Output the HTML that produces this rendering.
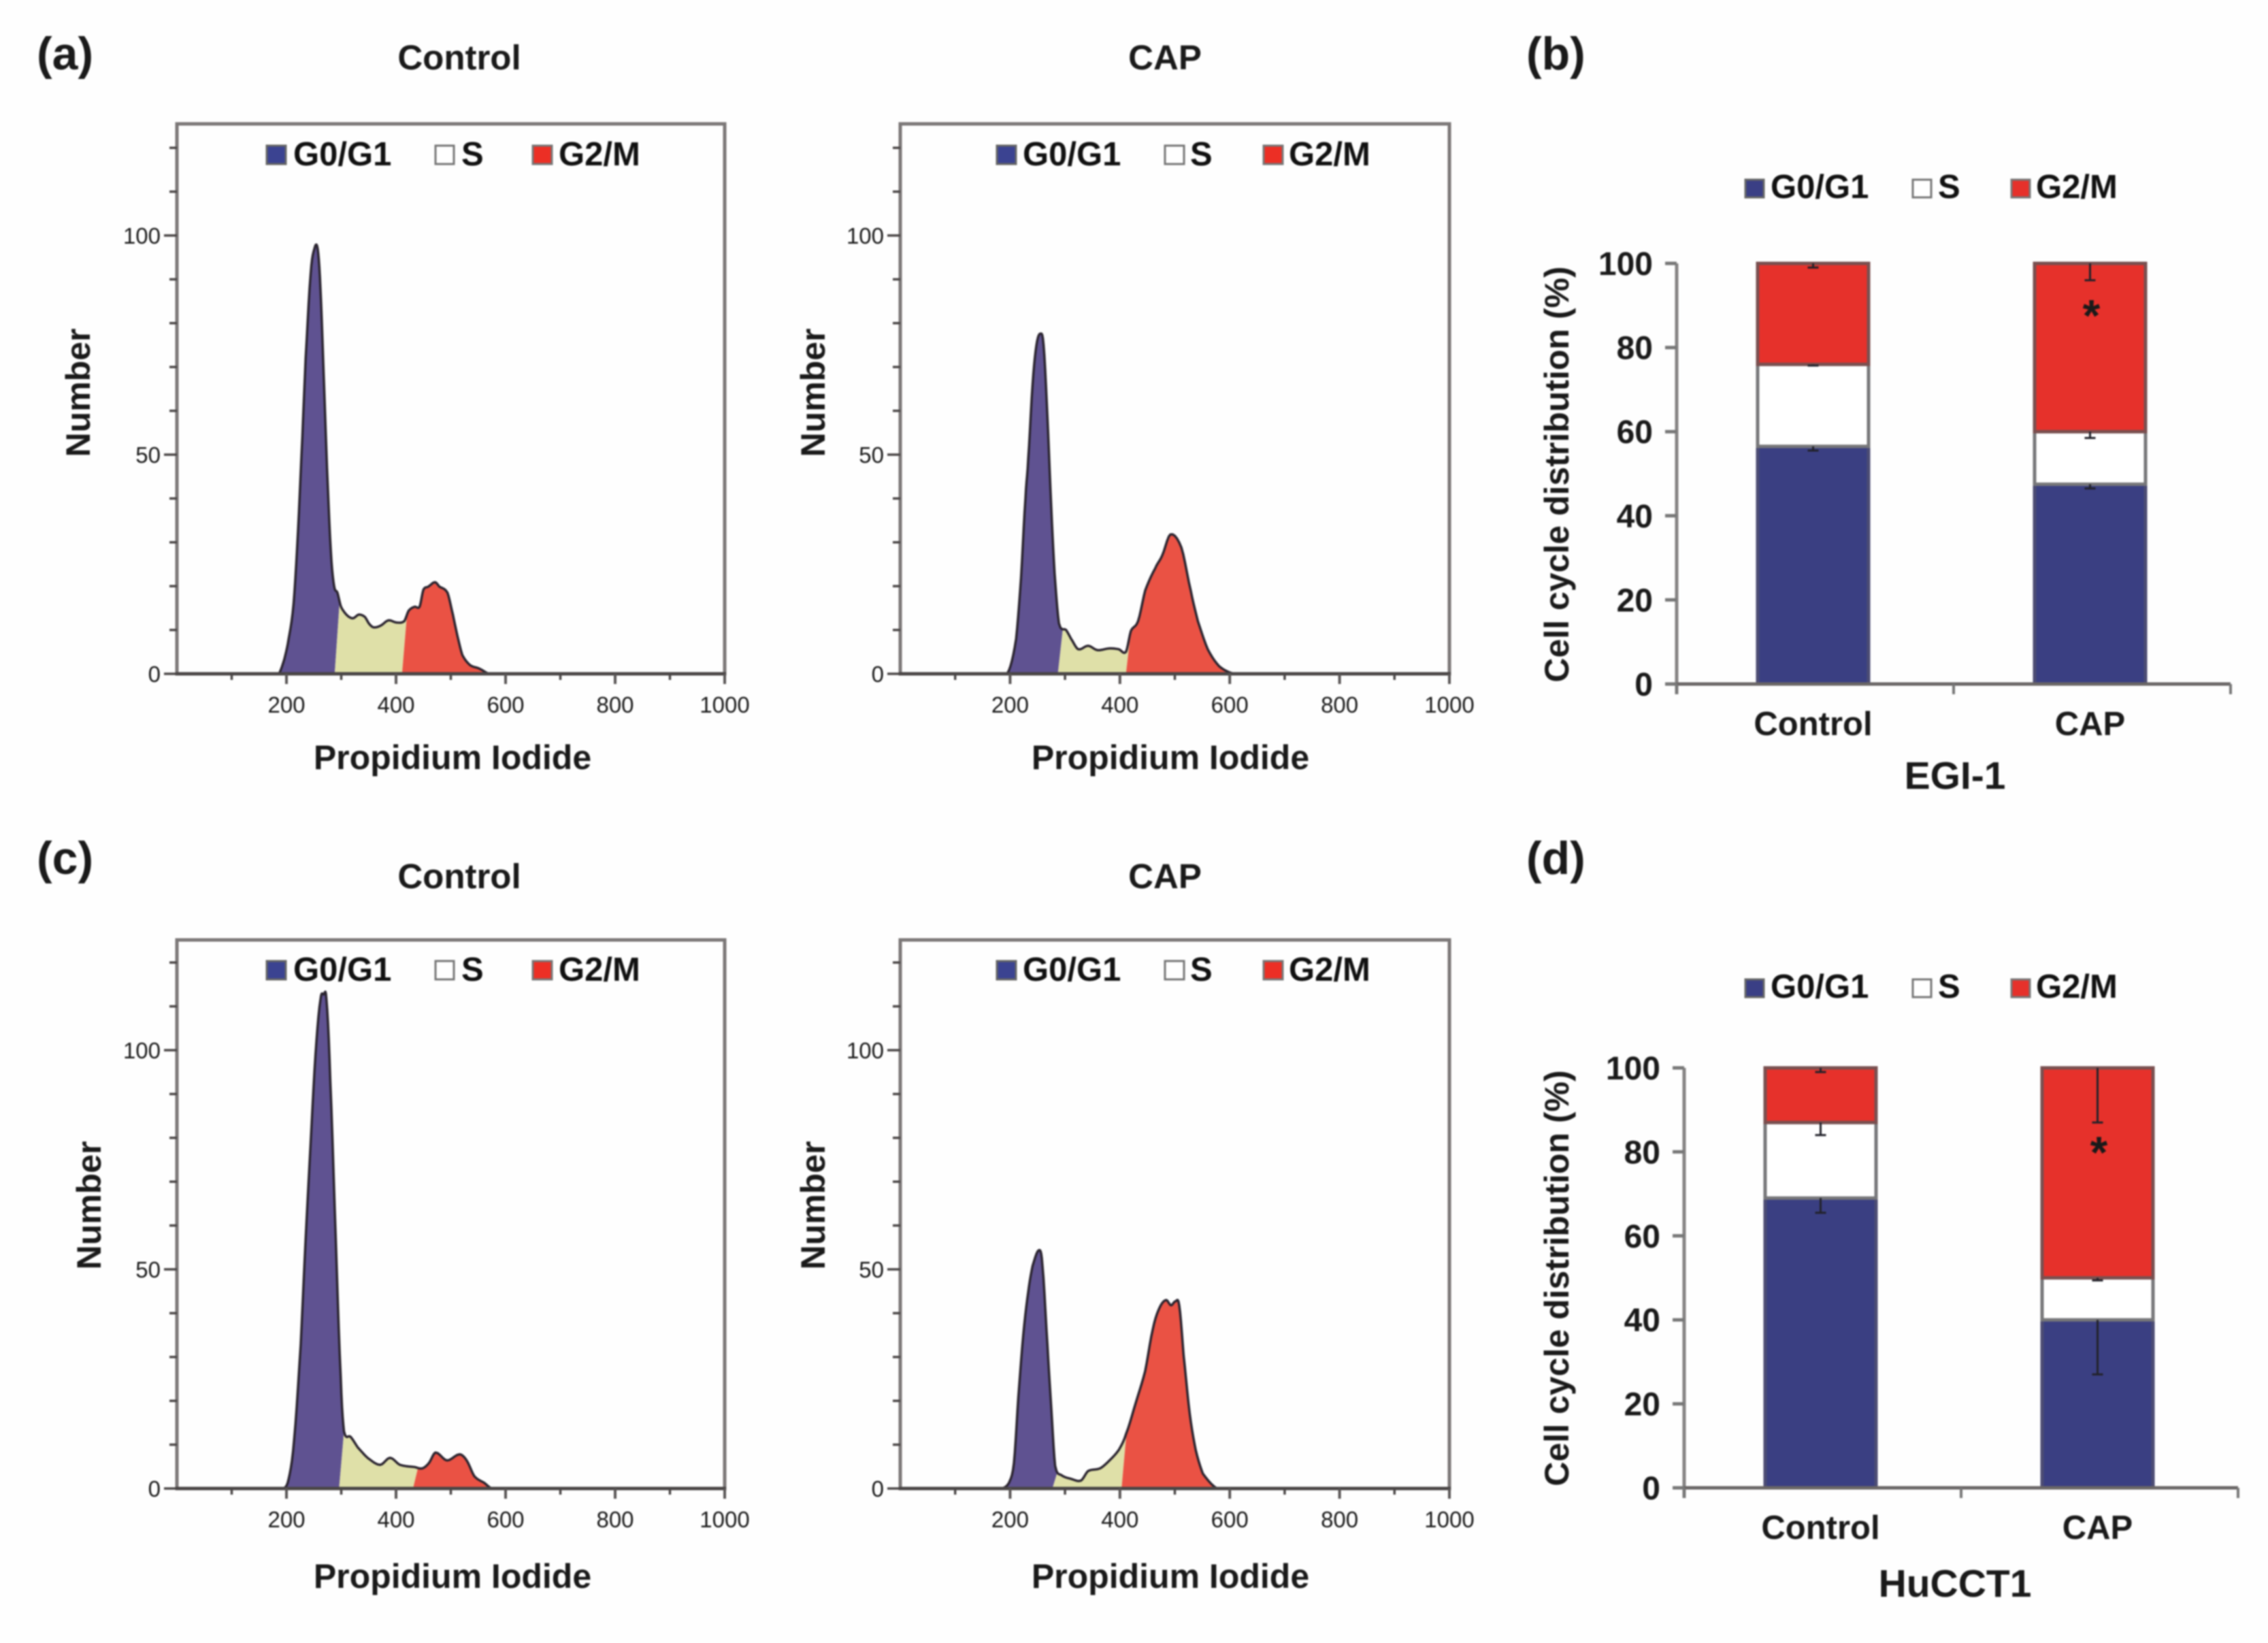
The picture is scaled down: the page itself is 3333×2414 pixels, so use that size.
<!DOCTYPE html>
<html lang="en">
<head>
<meta charset="utf-8">
<title>Cell cycle distribution</title>
<style>
html,body{margin:0;padding:0;background:#fefefe;}
svg{display:block;filter:blur(1.1px);}
text{font-family:"Liberation Sans",sans-serif;fill:#1a1a1a;}
.b{font-weight:bold;}
.leg{font-weight:bold;font-size:49px;fill:#111;}
.mid{text-anchor:middle;}
.ttl{font-weight:bold;font-size:51px;text-anchor:middle;}
.axt{font-weight:bold;font-size:50px;text-anchor:middle;}
.pl{font-weight:bold;font-size:68px;}
</style>
</head>
<body>
<svg id="fig" xmlns="http://www.w3.org/2000/svg" width="3333" height="2414" viewBox="0 0 3333 2414">
<rect x="0" y="0" width="3333" height="2414" fill="#fefefe"/>

<text class="pl" x="54" y="102">(a)</text>
<text class="pl" x="2243" y="102">(b)</text>
<text class="pl" x="54" y="1284">(c)</text>
<text class="pl" x="2243" y="1284">(d)</text>

<text class="ttl" x="675" y="102">Control</text>
<text class="ttl" x="1712" y="102">CAP</text>
<text class="ttl" x="675" y="1305">Control</text>
<text class="ttl" x="1712" y="1305">CAP</text>

<text class="axt" x="665" y="1130">Propidium Iodide</text>
<text class="axt" x="1720" y="1130">Propidium Iodide</text>
<text class="axt" x="665" y="2333">Propidium Iodide</text>
<text class="axt" x="1720" y="2333">Propidium Iodide</text>

<text class="axt" transform="translate(132,577) rotate(-90)">Number</text>
<text class="axt" transform="translate(1212,577) rotate(-90)">Number</text>
<text class="axt" transform="translate(148,1771) rotate(-90)">Number</text>
<text class="axt" transform="translate(1212,1771) rotate(-90)">Number</text>

<text class="axt" transform="translate(2305,697) rotate(-90)">Cell cycle distribution (%)</text>
<text class="axt" transform="translate(2305,1878) rotate(-90)">Cell cycle distribution (%)</text>
<text class="b mid" x="2873" y="1159" font-size="57">EGI-1</text>
<text class="b mid" x="2873" y="2346" font-size="57">HuCCT1</text>

<!-- legends -->
<g>
<rect x="392" y="214" width="28" height="27" fill="#3b4391" stroke="#666" stroke-width="3"/>
<text class="leg" x="431" y="243">G0/G1</text>
<rect x="640" y="214" width="27" height="27" fill="#fff" stroke="#777" stroke-width="3"/>
<text class="leg" x="678" y="243">S</text>
<rect x="783" y="214" width="28" height="27" fill="#ec2f25" stroke="#777" stroke-width="3"/>
<text class="leg" x="821" y="243">G2/M</text>
</g>
<g>
<rect x="1465" y="214" width="28" height="27" fill="#3b4391" stroke="#666" stroke-width="3"/>
<text class="leg" x="1503" y="243">G0/G1</text>
<rect x="1712" y="214" width="28" height="27" fill="#fff" stroke="#777" stroke-width="3"/>
<text class="leg" x="1749" y="243">S</text>
<rect x="1857" y="214" width="28" height="27" fill="#ec2f25" stroke="#777" stroke-width="3"/>
<text class="leg" x="1894" y="243">G2/M</text>
</g>
<g>
<rect x="392" y="1412" width="28" height="27" fill="#3b4391" stroke="#666" stroke-width="3"/>
<text class="leg" x="431" y="1441">G0/G1</text>
<rect x="640" y="1412" width="27" height="27" fill="#fff" stroke="#777" stroke-width="3"/>
<text class="leg" x="678" y="1441">S</text>
<rect x="783" y="1412" width="28" height="27" fill="#ec2f25" stroke="#777" stroke-width="3"/>
<text class="leg" x="821" y="1441">G2/M</text>
</g>
<g>
<rect x="1465" y="1412" width="28" height="27" fill="#3b4391" stroke="#666" stroke-width="3"/>
<text class="leg" x="1503" y="1441">G0/G1</text>
<rect x="1712" y="1412" width="28" height="27" fill="#fff" stroke="#777" stroke-width="3"/>
<text class="leg" x="1749" y="1441">S</text>
<rect x="1857" y="1412" width="28" height="27" fill="#ec2f25" stroke="#777" stroke-width="3"/>
<text class="leg" x="1894" y="1441">G2/M</text>
</g>
<g>
<rect x="2565" y="264" width="27" height="26" fill="#3a3f85" stroke="#666" stroke-width="3"/>
<text class="leg" x="2602" y="291">G0/G1</text>
<rect x="2811" y="264" width="27" height="26" fill="#fff" stroke="#777" stroke-width="3"/>
<text class="leg" x="2848" y="291">S</text>
<rect x="2956" y="264" width="27" height="26" fill="#e6312b" stroke="#777" stroke-width="3"/>
<text class="leg" x="2992" y="291">G2/M</text>
</g>
<g>
<rect x="2565" y="1439" width="27" height="26" fill="#3a3f85" stroke="#666" stroke-width="3"/>
<text class="leg" x="2602" y="1466">G0/G1</text>
<rect x="2811" y="1439" width="27" height="26" fill="#fff" stroke="#777" stroke-width="3"/>
<text class="leg" x="2848" y="1466">S</text>
<rect x="2956" y="1439" width="27" height="26" fill="#e6312b" stroke="#777" stroke-width="3"/>
<text class="leg" x="2992" y="1466">G2/M</text>
</g>
<g id="charts"></g>
</svg>

<script>
// ---- histogram data (x in propidium iodide units, y in cell number) ----
const aControlX = [186,196,204,213,221,229,235,244,251,257,262,268,274,281,287,293,299,306,314,322,332,343,351,359,372,386,401,415,423,434,443,450,459,471,479,494,504,512,521,535,552,570];
const aControlY = [0,3.3,8,16,32.4,54,72,91,97,97,88,68,47,28,20,18.5,15.5,14,13,12.7,13.5,13,11.4,10.6,11,12.2,11.7,12,14.4,15.3,15.3,19.2,19.9,20.9,19.9,18.5,13.4,8.7,4.3,2,1.2,0];
const aControlGates = [297,420];

const aCapX = [185,198,211,220,228,233,241,248,255,261,268,275,281,289,302,311,324,342,359,381,398,411,420,433,446,464,477,492,512,529,542,560,581,608];
const aCapY = [0,0.8,8,22,40,49,66,75,77.6,75,58.6,38,23,11.5,10,8,5.6,6.4,5.4,5.8,5.6,5,9.8,12,19,24,27,31.8,28.8,19,12,5.6,1.7,0];
const aCapGates = [296,420];

const cControlX = [195,204,214,226,235,244,253,262,268,273,280,290,299,305,317,330,348,371,389,407,434,448,460,472,493,516,529,543,561,575];
const cControlY = [0,2.2,11.2,32.8,56.9,78.5,99,111.5,112.7,111.5,93,56.9,25.6,13,11.8,9.4,7,5.4,7,5.4,4.9,4.6,5.8,8.2,6.4,7.8,6.4,2.8,1.3,0];
const cControlGates = [305,440];

const cCapX = [185,198,207,215,224,233,241,253,259,268,275,282,294,311,329,342,364,381,398,411,429,446,460,472,484,493,501,508,516,527,538,551,577];
const cCapY = [0,1.3,5.8,20.8,35,44.8,50.8,54.4,50.8,32.8,18.4,5.2,3,2.2,1.8,4,4.6,6.4,8.8,12.4,19.6,26.8,36.4,41.2,43,41.8,42.7,41.8,30.4,17.2,8.8,3.4,0];
const cCapGates = [286,412];

const histXMajorTicks = [200,400,600,800,1000];
const histXMinorTicks = [100,300,500,700,900];
const histYMajorTicks = [0,50,100];
const histYMinorTicks = [10,20,30,40,60,70,80,90,110,120];

// ---- stacked bar data (% of cells) ----
const barCategories = ['Control','CAP'];
const barYTicks = [0,20,40,60,80,100];
const egiG0 = [56.5,47.5];
const egiS = [19.5,12.5];
const egiG2 = [24,40];
const egiErrG0 = [1,1];
const egiErrS = [0.3,1.5];
const egiErrG2 = [1,4];
const egiStar = [null,89.7];
const hucG0 = [69,40];
const hucS = [18,10];
const hucG2 = [13,50];
const hucErrG0 = [3.5,13];
const hucErrS = [3,0.6];
const hucErrG2 = [1,13];
const hucStar = [null,82];

const NS = 'http://www.w3.org/2000/svg';
const root = document.getElementById('charts');

function mk(tag, attrs, parent) {
  const el = document.createElementNS(NS, tag);
  for (const k in attrs) el.setAttribute(k, attrs[k]);
  parent.appendChild(el);
  return el;
}

function interp(xs, ys, x) {
  for (let i = 1; i < xs.length; i++) {
    if (x <= xs[i]) {
      const t = (x - xs[i-1]) / (xs[i] - xs[i-1]);
      return ys[i-1] + t * (ys[i] - ys[i-1]);
    }
  }
  return 0;
}

// Catmull-Rom rendering of the read points so the curve draws rounded like the original.
function smoothCurve(xs, ys) {
  const ox = [], oy = [];
  const n = xs.length;
  for (let i = 0; i < n - 1; i++) {
    const p0 = ys[Math.max(i - 1, 0)], p1 = ys[i], p2 = ys[i + 1], p3 = ys[Math.min(i + 2, n - 1)];
    const steps = 5;
    for (let s = 0; s < steps; s++) {
      const t = s / steps;
      ox.push(xs[i] + (xs[i + 1] - xs[i]) * t);
      const v = 0.5 * (2 * p1 + (p2 - p0) * t + (2 * p0 - 5 * p1 + 4 * p2 - p3) * t * t + (3 * p1 - p0 - 3 * p2 + p3) * t * t * t);
      oy.push(Math.max(v, 0));
    }
  }
  ox.push(xs[n - 1]);
  oy.push(ys[n - 1]);
  return [ox, oy];
}

function drawHistogram(id, frame, rawX, rawY, gates) {
  const g = mk('g', {}, root);
  
  
  const sx = v => frame.left + (frame.right - frame.left) * v / 1000;
  const sy = v => frame.bottom - v * 6.44;
  const dense = smoothCurve(rawX, rawY);
  const xs = dense[0], ys = dense[1];
  const slant = 9;
  const first = xs[0], last = xs[xs.length - 1];
  const regions = [
    {name:'g0g1', a:first, b:gates[0], aSlant:0, bSlant:slant, fill:'#5f5291'},
    {name:'s', a:gates[0], b:gates[1], aSlant:slant, bSlant:slant, fill:'#dfe0a8'},
    {name:'g2m', a:gates[1], b:last, aSlant:slant, bSlant:0, fill:'#ea5244'}
  ];
  regions.forEach(r => {
    const pts = [];
    pts.push([sx(r.a - r.aSlant), sy(0)]);
    pts.push([sx(r.a), sy(interp(xs, ys, r.a))]);
    xs.forEach((x, i) => { if (x > r.a && x < r.b) pts.push([sx(x), sy(ys[i])]); });
    pts.push([sx(r.b), sy(interp(xs, ys, r.b))]);
    pts.push([sx(r.b - r.bSlant), sy(0)]);
    const poly = mk('polygon', {points: pts.map(p => p.join(',')).join(' '), fill: r.fill}, g);
    
    
  });
  const curve = mk('polyline', {
    points: xs.map((x, i) => sx(x) + ',' + sy(ys[i])).join(' '),
    fill: 'none', stroke: '#2b2530', 'stroke-width': 3.5, 'stroke-linejoin': 'round'
  }, g);
  
  

  const box = mk('rect', {
    x: frame.left, y: frame.top, width: frame.right - frame.left, height: frame.bottom - frame.top,
    fill: 'none', stroke: '#7b7777', 'stroke-width': 5
  }, g);
  
  
  const base = mk('line', {x1: frame.left - 2, x2: frame.right + 2, y1: frame.bottom, y2: frame.bottom, stroke: '#4a4646', 'stroke-width': 5}, g);
  
  

  histYMajorTicks.forEach(v => {
    const t = mk('line', {x1: frame.left - 19, x2: frame.left, y1: sy(v), y2: sy(v), stroke: '#4a4646', 'stroke-width': 3.5}, g);
    
    
    const l = mk('text', {x: frame.left - 24, y: sy(v) + 12, 'text-anchor': 'end', 'font-size': 33, fill: '#333'}, g);
    
    
    l.textContent = v;
  });
  histYMinorTicks.forEach(v => {
    const t = mk('line', {x1: frame.left - 11, x2: frame.left, y1: sy(v), y2: sy(v), stroke: '#4a4646', 'stroke-width': 3.5}, g);
    
    
  });
  histXMajorTicks.forEach(v => {
    const t = mk('line', {x1: sx(v), x2: sx(v), y1: frame.bottom, y2: frame.bottom + 15, stroke: '#5a5656', 'stroke-width': 4}, g);
    
    
    const l = mk('text', {x: sx(v), y: frame.bottom + 57, 'text-anchor': 'middle', 'font-size': 33, fill: '#333'}, g);
    
    
    l.textContent = v;
  });
  histXMinorTicks.forEach(v => {
    const t = mk('line', {x1: sx(v), x2: sx(v), y1: frame.bottom, y2: frame.bottom + 9, stroke: '#4a4646', 'stroke-width': 3.5}, g);
    
    
  });
}

function drawBars(id, frame, g0, s, g2, e0, eS, e2, stars) {
  const g = mk('g', {}, root);
  
  
  const sy = v => frame.bottom - (frame.bottom - frame.top) * v / 100;
  const band = (frame.right - frame.left) / barCategories.length;
  const cx = i => frame.left + band * (i + 0.5) - 3;
  const w = 163;
  barCategories.forEach((cat, i) => {
    const stack = [
      {name:'g0g1', v:g0[i], e:e0[i], fill:'#3a3f82', stroke:'#4c4c74'},
      {name:'s', v:s[i], e:eS[i], fill:'#ffffff', stroke:'#77777a'},
      {name:'g2m', v:g2[i], e:e2[i], fill:'#e6312b', stroke:'#7a5050'}
    ];
    let acc = 0;
    stack.forEach(seg => {
      const y0 = sy(acc), y1 = sy(acc + seg.v);
      const r = mk('rect', {x: cx(i) - w/2, y: y1, width: w, height: y0 - y1, fill: seg.fill, stroke: seg.stroke, 'stroke-width': 5}, g);
      
      
      acc += seg.v;
    });
    acc = 0;
    stack.forEach(seg => {
      acc += seg.v;
      const yt = sy(acc), yb = sy(acc - seg.e);
      const eb = mk('path', {
        d: 'M' + cx(i) + ' ' + yt + 'V' + yb + 'M' + (cx(i) - 8) + ' ' + yb + 'H' + (cx(i) + 8),
        fill: 'none', stroke: '#22222a', 'stroke-width': 3
      }, g);
      
      
    });
    if (stars[i] !== null) {
      const st = mk('text', {x: cx(i) + 2, y: sy(stars[i]) + 36, 'text-anchor': 'middle', 'font-size': 66, 'font-weight': 'bold', fill: '#111'}, g);
      
      
      st.textContent = '*';
    }
    const lab = mk('text', {x: cx(i), y: frame.bottom + 75, 'text-anchor': 'middle', 'font-size': 49, 'font-weight': 'bold'}, g);
    
    
    lab.textContent = cat;
  });
  const ya = mk('line', {x1: frame.left, x2: frame.left, y1: frame.top, y2: frame.bottom + 15, stroke: '#858383', 'stroke-width': 5}, g);
  
  
  const xa = mk('line', {x1: frame.left, x2: frame.right, y1: frame.bottom, y2: frame.bottom, stroke: '#6a6666', 'stroke-width': 5}, g);
  
  
  [0, 1, 2].forEach(i => {
    const tx = frame.left + band * i;
    const t = mk('line', {x1: tx, x2: tx, y1: frame.bottom, y2: frame.bottom + 15, stroke: '#777', 'stroke-width': 4}, g);
    
    
  });
  barYTicks.forEach(v => {
    const t = mk('line', {x1: frame.left - 17, x2: frame.left, y1: sy(v), y2: sy(v), stroke: '#777', 'stroke-width': 5}, g);
    
    
    const l = mk('text', {x: frame.left - 35, y: sy(v) + 17, 'text-anchor': 'end', 'font-size': 48, 'font-weight': 'bold', fill: '#111'}, g);
    
    
    l.textContent = v;
  });
}

drawHistogram('a-control', {left:260, right:1065, top:182, bottom:990}, aControlX, aControlY, aControlGates);
drawHistogram('a-cap', {left:1323, right:2130, top:182, bottom:990}, aCapX, aCapY, aCapGates);
drawHistogram('c-control', {left:260, right:1065, top:1381, bottom:2187}, cControlX, cControlY, cControlGates);
drawHistogram('c-cap', {left:1323, right:2130, top:1381, bottom:2187}, cCapX, cCapY, cCapGates);
drawBars('b', {left:2464, right:3278, top:387, bottom:1005}, egiG0, egiS, egiG2, egiErrG0, egiErrS, egiErrG2, egiStar);
drawBars('d', {left:2475, right:3289, top:1569, bottom:2186}, hucG0, hucS, hucG2, hucErrG0, hucErrS, hucErrG2, hucStar);
</script>
</body>
</html>
